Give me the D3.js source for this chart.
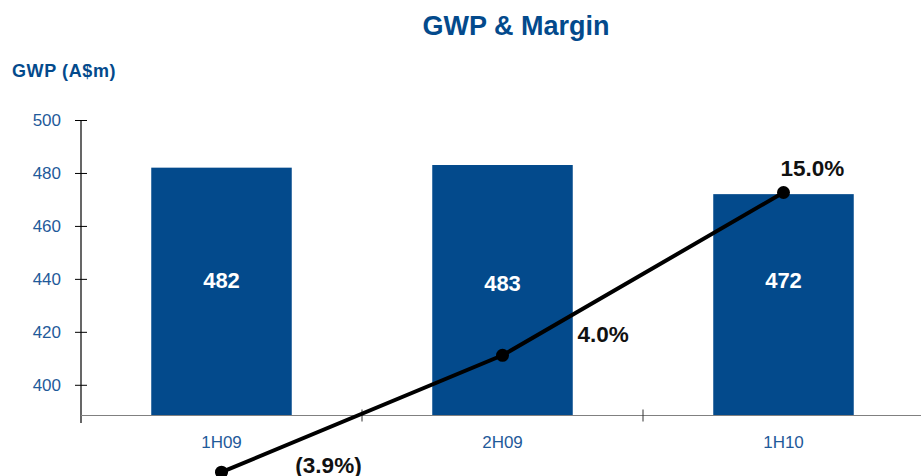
<!DOCTYPE html>
<html>
<head>
<meta charset="utf-8">
<script src="https://cdn.jsdelivr.net/npm/d3@7"></script>
<style>
  body { margin: 0; background: #fff; }
  svg { display: block; font-family: Arial, 'Liberation Sans', sans-serif; }
</style>
</head>
<body>
<svg width="921" height="476"></svg>
<script>
const periods = ['1H09', '2H09', '1H10'];
const gwp = [482, 483, 472];
const margin = [-3.9, 4.0, 15.0];
const marginLabels = ['(3.9%)', '4.0%', '15.0%'];
const yTicks = [400, 420, 440, 460, 480, 500];

const [w, h] = [921, 476];
const blue = '#034a8c';
const textBlue = '#1f5a9a';

const svg = d3.select('svg').attr('width', w).attr('height', h);

const xScale = d3.scaleBand()
    .domain(periods)
    .range([81, 924])
    .paddingInner(0.5)
    .paddingOuter(0.25);

const yScale = d3.scaleLinear()
    .domain([388.4, 500])
    .range([415.5, 120]);

// margin sits on its own hidden scale
const mScale = d3.scaleLinear()
    .domain([-5, 20])
    .range([488.5, 118.5]);

// title + axis title
svg.append('text')
    .attr('x', 516).attr('y', 35)
    .attr('text-anchor', 'middle')
    .style('font-size', '27px').style('font-weight', 'bold')
    .attr('fill', blue)
    .text('GWP & Margin');

svg.append('text')
    .attr('x', 12).attr('y', 77)
    .style('font-size', '18px').style('font-weight', 'bold')
    .style('letter-spacing', '0.6px')
    .attr('fill', blue)
    .text('GWP (A$m)');

// bars
svg.selectAll('rect.bar')
    .data(gwp)
    .enter()
    .append('rect')
        .attr('class', 'bar')
        .attr('x', (d, i) => xScale(periods[i]))
        .attr('width', xScale.bandwidth())
        .attr('y', d => yScale(d))
        .attr('height', d => yScale.range()[0] - yScale(d))
        .attr('fill', blue);

svg.selectAll('text.val')
    .data(gwp)
    .enter()
    .append('text')
        .attr('class', 'val')
        .attr('x', (d, i) => xScale(periods[i]) + xScale.bandwidth() / 2)
        .attr('y', (d, i) => yScale(440) + (i === 1 ? 12 : 9))
        .attr('text-anchor', 'middle')
        .style('font-size', '22px').style('font-weight', 'bold')
        .attr('fill', '#fff')
        .text(d => d);

// y axis
const yAxis = d3.axisLeft(yScale)
    .tickValues(yTicks)
    .tickSize(0)
    .tickPadding(20);

const gy = svg.append('g')
    .attr('transform', 'translate(81,0)')
    .call(yAxis);
gy.select('.domain').remove();
gy.selectAll('.tick text')
    .style('font-size', '17px')
    .style('font-family', 'Arial, "Liberation Sans", sans-serif')
    .attr('fill', textBlue);
gy.selectAll('.tick').append('line')
    .attr('x1', -6).attr('x2', 6)
    .attr('stroke', '#000').attr('stroke-width', 1);
gy.append('line')
    .attr('x1', 0).attr('x2', 0)
    .attr('y1', yScale(500)).attr('y2', 423)
    .attr('stroke', '#000').attr('stroke-width', 1.2);

// x axis
const xAxis = d3.axisBottom(xScale).tickSize(0).tickPadding(20);
const gx = svg.append('g')
    .attr('transform', `translate(0, ${yScale.range()[0]})`)
    .call(xAxis);
gx.select('.domain').remove();
gx.selectAll('.tick text')
    .style('font-size', '17px')
    .style('font-family', 'Arial, "Liberation Sans", sans-serif')
    .attr('fill', textBlue);
gx.append('line')
    .attr('x1', 81).attr('x2', w)
    .attr('stroke', '#808080').attr('stroke-width', 1.2);
gx.selectAll('line.sep')
    .data(periods.slice(1))
    .enter()
    .append('line')
        .attr('class', 'sep')
        .attr('x1', d => xScale(d) - xScale.step() * 0.25)
        .attr('x2', d => xScale(d) - xScale.step() * 0.25)
        .attr('y1', -6).attr('y2', 6)
        .attr('stroke', '#333').attr('stroke-width', 1);

// margin line
const cx = i => xScale(periods[i]) + xScale.bandwidth() / 2;
const line = d3.line()
    .x((d, i) => cx(i))
    .y(d => mScale(d));

svg.append('path')
    .datum(margin)
    .attr('d', line)
    .attr('fill', 'none')
    .attr('stroke', '#000')
    .attr('stroke-width', 4);

svg.selectAll('circle')
    .data(margin)
    .enter()
    .append('circle')
        .attr('cx', (d, i) => cx(i))
        .attr('cy', d => mScale(d))
        .attr('r', 6.5)
        .attr('fill', '#000');

// label offsets from each point
const labelOffsets = [[107, 1, 'middle'], [75, -13, 'start'], [-3, -17, 'start']];
svg.selectAll('text.m')
    .data(margin)
    .enter()
    .append('text')
        .attr('class', 'm')
        .attr('x', (d, i) => cx(i) + labelOffsets[i][0])
        .attr('y', (d, i) => mScale(d) + labelOffsets[i][1])
        .attr('text-anchor', (d, i) => labelOffsets[i][2])
        .style('font-size', '22.5px').style('font-weight', 'bold')
        .attr('fill', '#111')
        .text((d, i) => marginLabels[i]);
</script>
</body>
</html>
